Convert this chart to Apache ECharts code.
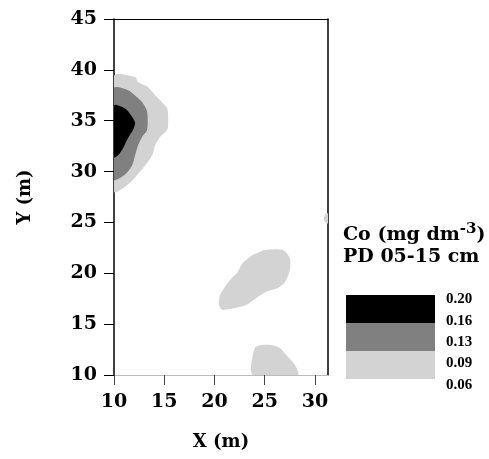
<!DOCTYPE html>
<html>
<head>
<meta charset="utf-8">
<script src="https://cdn.jsdelivr.net/npm/echarts@6/dist/echarts.min.js"></script>
<style>
  html, body { margin: 0; padding: 0; background: #fff; }
  #main { width: 489px; height: 459px; }
</style>
</head>
<body>
<div id="main"></div>
<script>
// axis ranges and tick labels
const xMin = 10, xMax = 31.3, yMin = 10, yMax = 45;
const xTickLabels = [10, 15, 20, 25, 30];
const legendLabels = ['0.20', '0.16', '0.13', '0.09', '0.06'];

// contour outlines, [x, y] in metres
const leftOuter = [[10, 39.4], [12.1, 39.3], [12.4, 38.8], [13.4, 38.3], [14.1, 37.5], [14.8, 36.8],
  [15.3, 36.2], [15.4, 34.9], [15.3, 34.1], [14.6, 33.4], [14.1, 32.6], [13.8, 31.6], [13.1, 30.6],
  [12.6, 30.0], [11.9, 29.2], [11.1, 28.5], [10.3, 28.0], [10, 28.0]];
const leftMiddle = [[10, 38.2], [11.4, 38.0], [12.3, 37.3], [12.9, 36.7], [13.3, 35.9], [13.3, 34.1],
  [12.8, 33.4], [12.4, 32.6], [12.1, 31.6], [11.8, 30.6], [11.1, 29.7], [10, 29.2]];
const leftCore = [[10, 36.5], [11.1, 36.2], [11.8, 35.4], [12.1, 34.8], [11.9, 34.1], [11.4, 33.3],
  [10.9, 32.3], [10.4, 31.6], [10, 31.4]];
const centreBlob = [[25.0, 22.3], [26.8, 22.3], [27.5, 21.5], [27.5, 20.3], [27.0, 19.1], [26.2, 18.5],
  [25.2, 18.2], [24.2, 17.6], [23.2, 16.9], [22.2, 16.6], [20.8, 16.4], [20.5, 16.7], [20.5, 17.7],
  [21.0, 18.6], [21.7, 19.5], [22.3, 20.1], [22.8, 21.0], [23.8, 21.8], [24.5, 22.1]];
const bottomBlob = [[23.8, 10], [24.0, 12.65], [24.7, 12.95], [25.7, 12.95], [26.5, 12.65],
  [27.3, 11.8], [28.0, 11.0], [28.3, 10]];
const edgeBlob = [[31.3, 24.9], [30.95, 25.1], [30.9, 25.5], [31.05, 25.8], [31.3, 25.9]];

// class index: 0 = 0.09-0.13, 1 = 0.13-0.16, 2 = 0.16-0.20
const contours = [
  { points: leftOuter, level: 0 },
  { points: centreBlob, level: 0 },
  { points: bottomBlob, level: 0 },
  { points: edgeBlob, level: 0 },
  { points: leftMiddle, level: 1 },
  { points: leftCore, level: 2 }
];
const levelColors = ['#d3d3d3', '#808080', '#000000'];

const font = 'DejaVu Serif';
const chart = echarts.init(document.getElementById('main'));

// legend boxes
const legendGraphics = [];
levelColors.slice().reverse().forEach((c, i) => {
  legendGraphics.push({
    type: 'rect', left: 346, top: 295 + i * 28,
    shape: { width: 89, height: 28 }, style: { fill: c }
  });
});
legendLabels.forEach((t, i) => {
  legendGraphics.push({
    type: 'text', left: 446, top: 292 + i * 21.3,
    style: { text: t, font: 'bold 15px "Liberation Serif"', fill: '#000' }
  });
});
legendGraphics.push({
  type: 'text', left: 343, top: 222,
  style: {
    rich: {
      b: { fontFamily: font, fontWeight: 'bold', fontSize: 19, fill: '#000', verticalAlign: 'bottom' },
      s: { fontFamily: font, fontWeight: 'bold', fontSize: 15, fill: '#000', verticalAlign: 'bottom', padding: [0, 0, 8, 0] }
    },
    text: '{b|Co (mg dm}{s|-3}{b|)}'
  }
});
legendGraphics.push({
  type: 'text', left: 343, top: 248,
  style: { text: 'PD 05-15 cm', font: 'bold 19px "' + font + '"', fill: '#000' }
});

chart.setOption({
  animation: false,
  grid: { left: 114, top: 19, width: 214, height: 356 },
  xAxis: [{
    type: 'value', min: xMin, max: xMax, interval: 5,
    name: 'X (m)', nameLocation: 'middle', nameGap: 58,
    nameTextStyle: { fontFamily: font, fontWeight: 'bold', fontSize: 18, color: '#000' },
    axisLine: { lineStyle: { color: '#bbb', width: 1 } },
    axisTick: { length: 10, lineStyle: { color: '#444' } },
    splitLine: { show: false },
    axisLabel: {
      margin: 18, fontFamily: font, fontWeight: 'bold', fontSize: 19, color: '#000',
      showMaxLabel: false,
      formatter: v => (xTickLabels.indexOf(v) >= 0 ? String(v) : '')
    }
  }, {
    type: 'value', position: 'top', min: xMin, max: xMax,
    axisLine: { show: true, lineStyle: { color: '#000' } },
    axisTick: { show: false }, axisLabel: { show: false }, splitLine: { show: false }
  }],
  yAxis: [{
    type: 'value', min: yMin, max: yMax, interval: 5,
    name: 'Y (m)', nameLocation: 'middle', nameGap: 80, nameRotate: 90,
    nameTextStyle: { fontFamily: font, fontWeight: 'bold', fontSize: 18, color: '#000' },
    axisLine: { show: true, lineStyle: { color: '#000', width: 1.5 } },
    axisTick: { show: true, length: 10, lineStyle: { color: '#000' } },
    splitLine: { show: false },
    axisLabel: { margin: 17, fontFamily: font, fontWeight: 'bold', fontSize: 19, color: '#000' }
  }, {
    type: 'value', position: 'right', min: yMin, max: yMax,
    axisLine: { show: true, lineStyle: { color: '#000', width: 1.5 } },
    axisTick: { show: false }, axisLabel: { show: false }, splitLine: { show: false }
  }],
  graphic: legendGraphics,
  series: [{
    type: 'custom',
    clip: true,
    coordinateSystem: 'cartesian2d',
    data: contours.map((c, i) => [i]),
    encode: { x: -1, y: -1 },
    renderItem: function (params, api) {
      const c = contours[params.dataIndex];
      return {
        type: 'polygon',
        shape: { points: c.points.map(p => api.coord(p)), smooth: 0.25 },
        style: { fill: levelColors[c.level] }
      };
    },
    z: 1
  }]
});
</script>
</body>
</html>
